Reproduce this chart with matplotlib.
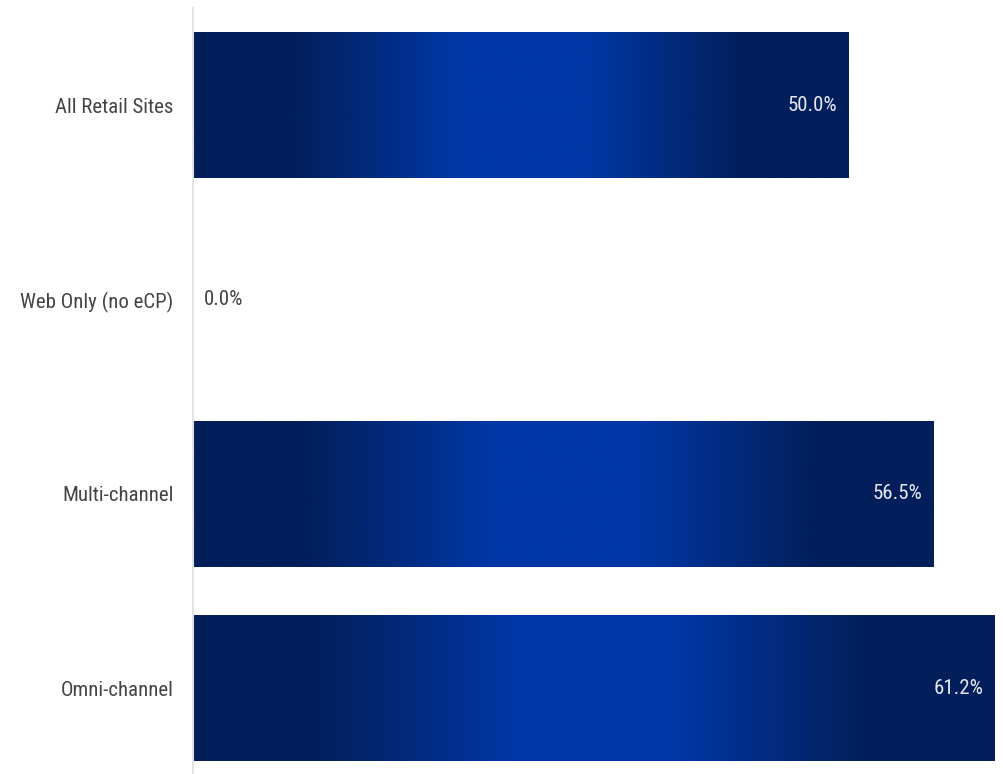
import numpy as np
import matplotlib.pyplot as plt
from matplotlib.colors import LinearSegmentedColormap
from matplotlib import font_manager
from matplotlib.font_manager import FontProperties

categories = ['All Retail Sites', 'Web Only (no eCP)', 'Multi-channel', 'Omni-channel']
values = [50.0, 0.0, 56.5, 61.2]
value_labels = ['50.0%', '0.0%', '56.5%', '61.2%']

# look for a condensed face, fall back to Roboto
narrow = None
for fam in ['Roboto', 'Noto Sans', 'Open Sans', 'Liberation Sans', 'DejaVu Sans']:
    for f in font_manager.fontManager.ttflist:
        fn = f.fname.lower()
        if f.name.startswith(fam) and ('condensed' in fn or 'narrow' in fn) \
                and f.style == 'normal' and 'bold' not in fn and 'light' not in fn \
                and 'italic' not in fn and 'semi' not in fn and 'extra' not in fn \
                and 'medium' not in fn and 'black' not in fn and 'thin' not in fn:
            narrow = f.fname
            break
    if narrow:
        break

if narrow:
    fp = FontProperties(fname=narrow, size=15)
else:
    fp = FontProperties(family='Roboto', size=14)

# dark navy at both ends, bright blue through the middle
bar_cmap = LinearSegmentedColormap.from_list('bar', [
    (0.0, '#021f5b'), (0.15, '#021f5b'), (0.28, '#022b80'), (0.40, '#0037a6'),
    (0.60, '#0037a6'), (0.72, '#022b80'), (0.84, '#021f5b'), (1.0, '#021f5b')])
grad = np.linspace(0, 1, 256).reshape(1, -1)

fig = plt.figure(figsize=(10.04, 7.74), dpi=100)
ax = fig.add_axes([193 / 1004, 0, (996 - 193) / 1004, (774 - 8) / 774])

y = np.arange(len(categories))
bars = ax.barh(y, values, height=0.75, color='none', edgecolor='none')

for rect, val, lab in zip(bars, values, value_labels):
    x0, y0 = rect.get_x(), rect.get_y()
    w, h = rect.get_width(), rect.get_height()
    if w > 0:
        ax.imshow(grad, cmap=bar_cmap, aspect='auto', interpolation='bicubic',
                  extent=(x0, x0 + w, y0 + h, y0), zorder=2)
        ax.text(val - 0.85, y0 + h / 2, lab, ha='right', va='center',
                color='#e6e8f0', fontproperties=fp, zorder=3)
    else:
        ax.text(0.85, y0 + h / 2, lab, ha='left', va='center',
                color='#444444', fontproperties=fp, zorder=3)

ax.set_xlim(0, 61.2 * 803 / 802)
ax.set_ylim(3.443, -0.503)
ax.set_yticks(y)
ax.set_yticklabels(categories, color='#444444')
for t in ax.get_yticklabels():
    t.set_fontproperties(fp)
ax.tick_params(axis='y', length=0, pad=14)
ax.set_xticks([])
for side in ['top', 'right', 'bottom']:
    ax.spines[side].set_visible(False)
ax.spines['left'].set_color('#e3e3e3')
ax.spines['left'].set_linewidth(1.5)

fig.savefig('out.png', dpi=100)
